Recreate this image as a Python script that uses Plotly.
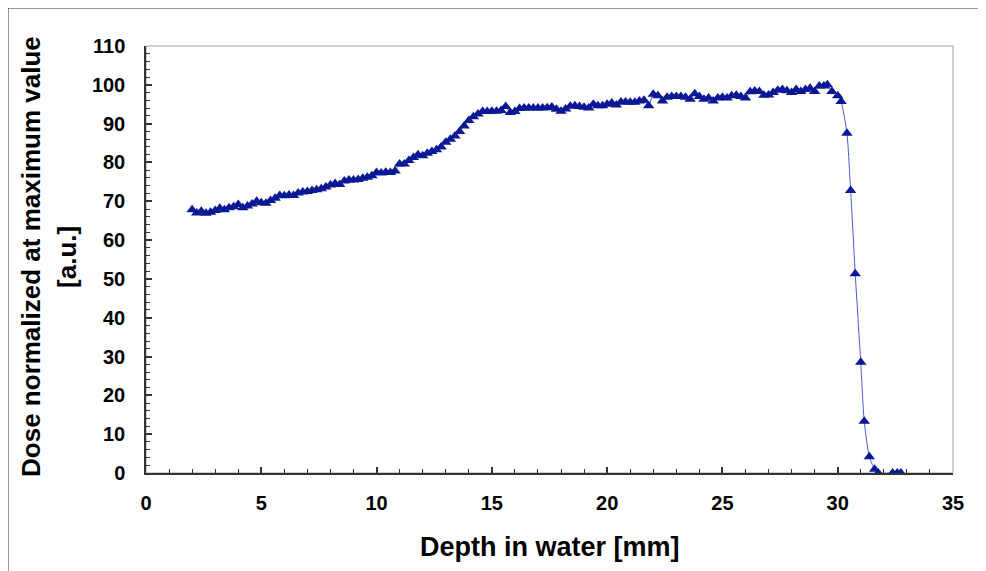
import plotly.graph_objects as go

depth_mm = [
    2.0, 2.2, 2.4, 2.6, 2.8, 3.0, 3.2, 3.4, 3.6, 3.8,
    4.0, 4.2, 4.4, 4.6, 4.8, 5.0, 5.2, 5.4, 5.6, 5.8,
    6.0, 6.2, 6.4, 6.6, 6.8, 7.0, 7.2, 7.4, 7.6, 7.8,
    8.0, 8.2, 8.4, 8.6, 8.8, 9.0, 9.2, 9.4, 9.6, 9.8,
    10.0, 10.2, 10.4, 10.6, 10.8, 11.0, 11.2, 11.4, 11.6, 11.8,
    12.0, 12.2, 12.4, 12.6, 12.8, 13.0, 13.2, 13.4, 13.6, 13.8,
    14.0, 14.2, 14.4, 14.6, 14.8, 15.0, 15.2, 15.4, 15.6, 15.8,
    16.0, 16.2, 16.4, 16.6, 16.8, 17.0, 17.2, 17.4, 17.6, 17.8,
    18.0, 18.2, 18.4, 18.6, 18.8, 19.0, 19.2, 19.4, 19.6, 19.8,
    20.0, 20.2, 20.4, 20.6, 20.8, 21.0, 21.2, 21.4, 21.6, 21.8,
    22.0, 22.2, 22.4, 22.6, 22.8, 23.0, 23.2, 23.4, 23.6, 23.8,
    24.0, 24.2, 24.4, 24.6, 24.8, 25.0, 25.2, 25.4, 25.6, 25.8,
    26.0, 26.2, 26.4, 26.6, 26.8, 27.0, 27.2, 27.4, 27.6, 27.8,
    28.0, 28.2, 28.4, 28.6, 28.8, 29.0, 29.2, 29.4, 29.55,
    29.75, 30.0, 30.15, 30.4, 30.56, 30.76, 31.0, 31.15, 31.37, 31.6, 31.76,
    32.38, 32.58, 32.74,
]

dose = [
    67.8, 67.0, 67.4, 66.9, 67.2, 67.6, 68.2, 67.8, 68.3, 68.6,
    69.2, 68.3, 68.8, 69.3, 70.0, 69.6, 69.5, 70.2, 70.8, 71.5,
    71.4, 71.6, 71.5, 72.1, 72.4, 72.5, 72.8, 73.0, 73.2, 73.7,
    74.2, 74.6, 74.3, 75.2, 75.5, 75.5, 75.6, 75.9, 76.2, 76.6,
    77.4, 77.3, 77.5, 77.4, 77.8, 79.6, 79.6, 80.5, 81.3, 82.0,
    81.7, 82.4, 82.8, 83.3, 84.0, 85.2, 86.0, 86.8, 88.0, 89.4,
    90.8, 91.8, 92.5, 93.1, 93.1, 93.2, 93.2, 93.4, 94.4, 92.9,
    93.1, 93.9, 94.0, 94.0, 94.0, 94.0, 94.0, 94.1, 94.3, 93.7,
    93.2, 93.8, 94.5, 94.6, 94.4, 94.2, 94.0, 95.0, 94.6, 94.6,
    95.0, 95.3, 94.8, 95.6, 95.6, 95.5, 95.5, 95.8, 96.0, 94.6,
    97.6, 97.2, 95.8, 96.8, 97.0, 97.0, 97.0, 96.8, 96.3, 97.7,
    97.0, 96.3, 96.6, 95.8, 96.6, 96.8, 96.6, 97.2, 97.3, 97.0,
    96.6, 98.2, 98.4, 98.3, 97.3, 97.4, 98.0, 98.6, 98.8, 98.5,
    98.0, 98.8, 98.3, 98.8, 99.1, 98.3, 99.7, 99.7, 100.0,
    98.3, 97.2, 95.7, 87.5, 72.8, 51.3, 28.5, 13.3, 4.2, 0.95, 0.0,
    0.0, 0.0, 0.0,
]

x_ticks = [0, 5, 10, 15, 20, 25, 30, 35]
y_ticks = [0, 10, 20, 30, 40, 50, 60, 70, 80, 90, 100, 110]

FONT = "Liberation Sans"

fig = go.Figure()
fig.add_trace(go.Scatter(
    x=depth_mm, y=dose, mode="lines+markers",
    line=dict(color="#4a5bd0", width=1, shape="spline", smoothing=0.6),
    marker=dict(symbol="triangle-up", size=10, color="#0a1896",
                line=dict(width=0)),
    showlegend=False,
))

fig.update_layout(
    width=986, height=571,
    margin=dict(l=138, r=41, t=38, b=106),
    paper_bgcolor="white", plot_bgcolor="white",
    font=dict(family=FONT, color="black"),
    shapes=[
        dict(type="rect", xref="paper", yref="paper", x0=0, y0=0, x1=1, y1=1,
             line=dict(color="#a0a0a0", width=1), layer="below"),
        dict(type="line", xref="paper", yref="paper", x0=-0.171, y0=-0.4,
             x1=-0.171, y1=1.089, line=dict(color="#333333", width=1)),
        dict(type="line", xref="paper", yref="paper", x0=-0.171, y0=1.089,
             x1=1.2, y1=1.089, line=dict(color="#333333", width=1)),
    ],
    annotations=[
        dict(text="<b>Depth in water [mm]</b>", xref="paper", yref="paper",
             x=0.5006, y=-0.1733, xanchor="center", yanchor="middle",
             showarrow=False, font=dict(size=27, family=FONT)),
        dict(text="<b>Dose normalized at maximum value</b>", xref="paper", yref="paper",
             x=(31 - 146) / 807, y=0.506, xanchor="center", yanchor="middle",
             textangle=-90, showarrow=False, font=dict(size=26, family=FONT)),
        dict(text="<b>[a.u.]</b>", xref="paper", yref="paper",
             x=(67 - 146) / 807, y=0.506, xanchor="center", yanchor="middle",
             textangle=-90, showarrow=False, font=dict(size=26, family=FONT)),
    ],
)

fig.update_xaxes(
    range=[0, 35], tickvals=x_ticks, ticktext=[f"<b>{v}</b>" for v in x_ticks],
    showgrid=False, zeroline=False, showline=True, linecolor="#333333", linewidth=1.5,
    ticks="inside", ticklen=6, tickwidth=1.5, tickcolor="#333333",
    minor=dict(dtick=1, ticks="inside", ticklen=4, tickwidth=1, tickcolor="#333333"),
    tickfont=dict(size=20, family=FONT), ticklabelstandoff=11,
)
fig.update_yaxes(
    range=[0, 110], tickvals=y_ticks, ticktext=[f"<b>{v}</b>" for v in y_ticks],
    showgrid=False, zeroline=False, showline=True, linecolor="#333333", linewidth=1.5,
    ticks="inside", ticklen=6, tickwidth=1.5, tickcolor="#333333",
    minor=dict(dtick=2, ticks="inside", ticklen=4, tickwidth=1, tickcolor="#333333"),
    tickfont=dict(size=20, family=FONT), ticklabelstandoff=15,
)

fig.write_html("out.html")
